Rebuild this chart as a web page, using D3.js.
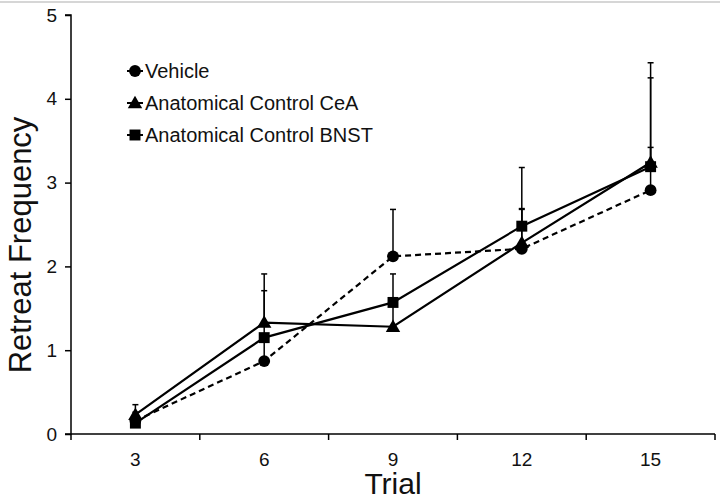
<!DOCTYPE html>
<html><head><meta charset="utf-8">
<script src="https://cdn.jsdelivr.net/npm/d3@7"></script>
<style>html,body{margin:0;padding:0;background:#fff;}svg{display:block;}</style>
</head><body>
<svg id="chart" width="720" height="498"></svg>
<script>
const trials = ["3", "6", "9", "12", "15"];
const seriesNames = ["Vehicle", "Anatomical Control CeA", "Anatomical Control BNST"];
const vehicle = [0.16, 0.87, 2.12, 2.21, 2.91];
const vehicleErr = [0.10, 0.30, 0.56, 0.48, 0.51];
const cea = [0.23, 1.33, 1.28, 2.28, 3.24];
const ceaErr = [0.12, 0.58, 0.30, 0.40, 1.19];
const bnst = [0.13, 1.15, 1.57, 2.48, 3.19];
const bnstErr = [0.10, 0.56, 0.34, 0.70, 1.06];
const yTicks = [0, 1, 2, 3, 4, 5];

const svg = d3.select("#chart");
const font = "'Liberation Sans', Arial, sans-serif";

svg.append("line").attr("x1", 0).attr("x2", 720).attr("y1", 2).attr("y2", 2)
  .attr("stroke", "#c8c8c8").attr("stroke-width", 1.5);

const x = d3.scaleBand().domain(trials).range([71, 715]);
const y = d3.scaleLinear().domain([0, 5]).range([434, 15]);

// Y axis
const yAxis = svg.append("g").attr("transform", "translate(71,0)")
  .call(d3.axisLeft(y).tickValues(yTicks).tickFormat(d3.format("d")).tickSize(6).tickPadding(8));
yAxis.select(".domain").attr("stroke-width", 1.5).attr("d", "M-6,15H0V434H-6");
yAxis.selectAll(".tick line").attr("stroke-width", 1.5);
yAxis.selectAll("text").attr("font-size", 19).attr("font-family", font).attr("fill", "#111");

// X axis
const xAxis = svg.append("g").attr("transform", "translate(0,434)")
  .call(d3.axisBottom(x).tickSize(0).tickPadding(19));
xAxis.select(".domain").attr("stroke-width", 1.5).attr("d", "M71,0H715");
xAxis.selectAll("text").attr("font-size", 19).attr("font-family", font).attr("fill", "#111");
const bounds = trials.map(t => x(t)).concat([x(trials[trials.length - 1]) + x.bandwidth()]);
xAxis.selectAll(".btick").data(bounds).enter().append("line")
  .attr("x1", d => d).attr("x2", d => d).attr("y1", 0).attr("y2", 6)
  .attr("stroke", "#000").attr("stroke-width", 1.5);

// Titles
svg.append("text").attr("x", 393).attr("y", 494).attr("text-anchor", "middle")
  .attr("font-size", 30).attr("font-family", font).attr("fill", "#111").text("Trial");
svg.append("text").attr("transform", "translate(31,245) rotate(-90)").attr("text-anchor", "middle")
  .attr("font-size", 31).attr("font-family", font).attr("fill", "#111").text("Retreat Frequency");

const cx = t => x(t) + x.bandwidth() / 2;
const series = [
  {name: seriesNames[0], vals: vehicle, err: vehicleErr, dash: "6,4", sym: d3.symbolCircle},
  {name: seriesNames[1], vals: cea, err: ceaErr, dash: null, sym: d3.symbolTriangle},
  {name: seriesNames[2], vals: bnst, err: bnstErr, dash: null, sym: d3.symbolSquare}
];

const line = d3.line().x((d, i) => cx(trials[i])).y(d => y(d));

// Error bars
series.forEach(s => {
  const g = svg.append("g");
  s.vals.forEach((v, i) => {
    const px = cx(trials[i]);
    const top = y(v + s.err[i]);
    g.append("line").attr("x1", px).attr("x2", px).attr("y1", y(v)).attr("y2", top)
      .attr("stroke", "#000").attr("stroke-width", 1.5);
    g.append("line").attr("x1", px - 3).attr("x2", px + 3).attr("y1", top).attr("y2", top)
      .attr("stroke", "#000").attr("stroke-width", 1.5);
  });
});

// Lines
series.forEach(s => {
  svg.append("path").datum(s.vals).attr("d", line).attr("fill", "none")
    .attr("stroke", "#000").attr("stroke-width", 2.2)
    .attr("stroke-dasharray", s.dash);
});

function symPath(sym) {
  if (sym === d3.symbolCircle) return d3.symbol(sym, 110)();
  if (sym === d3.symbolTriangle) return d3.symbol(sym, 90)();
  return d3.symbol(sym, 120)();
}

// Markers
series.forEach(s => {
  svg.append("g").selectAll("path").data(s.vals).enter().append("path")
    .attr("d", symPath(s.sym))
    .attr("transform", (d, i) => `translate(${cx(trials[i])},${y(d) + (s.sym === d3.symbolTriangle ? 1 : 0)})`)
    .attr("fill", "#000");
});

// Legend
const legY = [71, 103, 135];
series.forEach((s, i) => {
  const g = svg.append("g").attr("transform", `translate(135,${legY[i]})`);
  g.append("line").attr("x1", -8).attr("x2", 8).attr("y1", 0).attr("y2", 0)
    .attr("stroke", "#000").attr("stroke-width", 2);
  g.append("path").attr("d", symPath(s.sym)).attr("fill", "#000")
    .attr("transform", s.sym === d3.symbolTriangle ? "translate(0,1)" : null);
  g.append("text").attr("x", 10).attr("y", 7).attr("font-size", 20)
    .attr("font-family", font).attr("fill", "#111").text(s.name);
});
</script>
</body></html>
